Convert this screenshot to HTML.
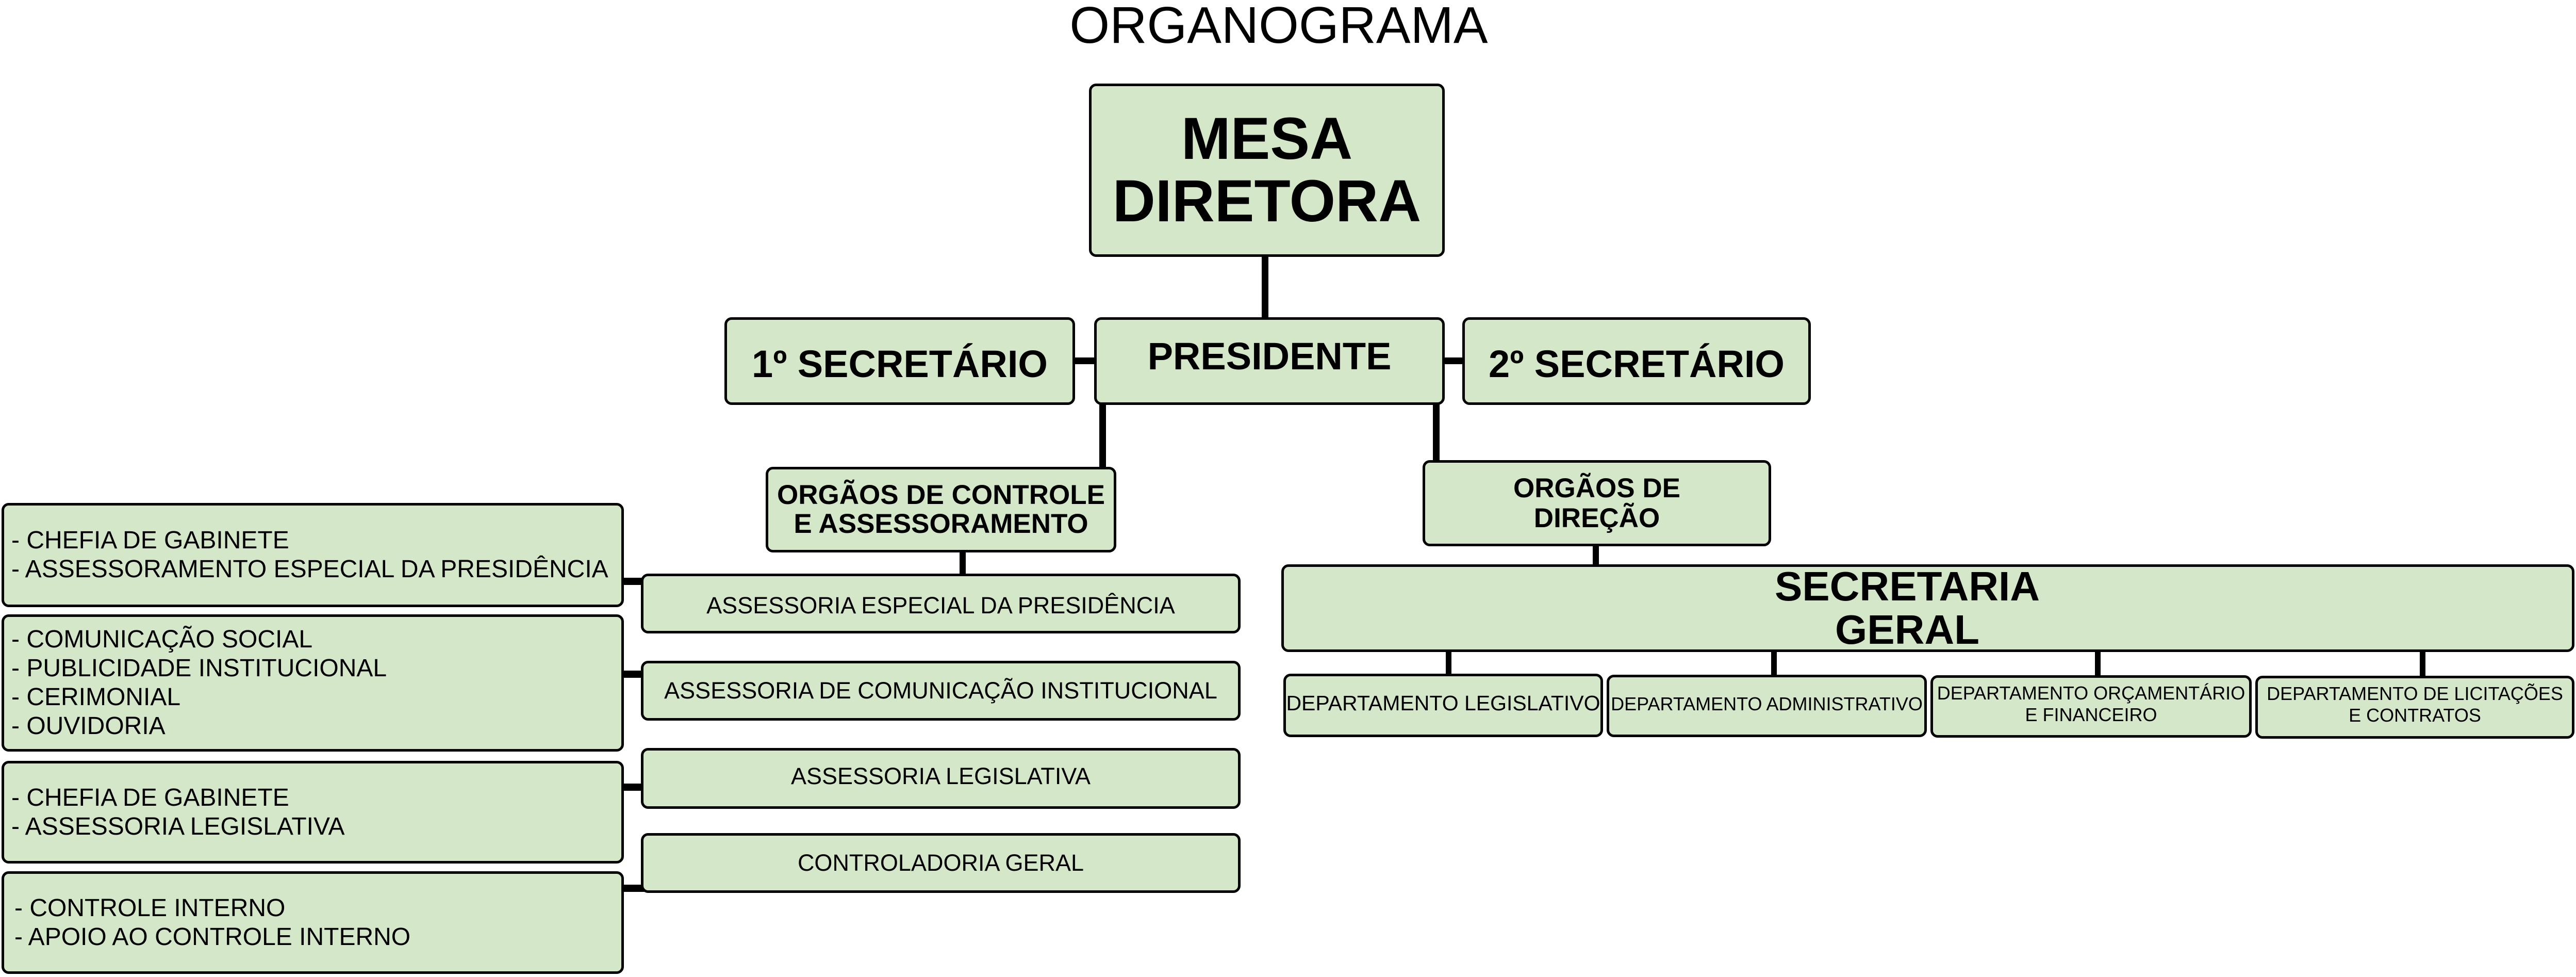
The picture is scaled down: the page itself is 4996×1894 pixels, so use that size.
<!DOCTYPE html>
<html><head><meta charset="utf-8"><style>
body{margin:0;width:4996px;height:1894px;background:#fff;position:relative;overflow:hidden;font-family:"Liberation Sans",Arial,sans-serif;color:#000}
.b{position:absolute;box-sizing:border-box;background:#d4e7c8;border:5px solid #000;border-radius:14px;display:flex;align-items:center;justify-content:center;text-align:center}
.l{position:absolute;background:#000}
.bold{font-weight:bold}
.left{justify-content:flex-start;text-align:left;padding-left:14px;font-size:48px;line-height:56px}
.r{font-size:45px}
.d{font-size:36px;line-height:42px;white-space:nowrap}
</style></head><body>
<div style="position:absolute;left:0;width:4996px;top:-8px;text-align:center;padding-right:36px;box-sizing:border-box;font-size:100px">ORGANOGRAMA</div>

<div class="l" style="left:2447px;top:495px;width:13px;height:122px"></div>
<div class="l" style="left:2080px;top:693px;width:45px;height:13px"></div>
<div class="l" style="left:2797px;top:693px;width:42px;height:13px"></div>
<div class="l" style="left:2132px;top:782px;width:13px;height:125px"></div>
<div class="l" style="left:2779px;top:782px;width:13px;height:112px"></div>
<div class="l" style="left:1861px;top:1068px;width:12px;height:46px"></div>
<div class="l" style="left:3089px;top:1056px;width:12px;height:40px"></div>
<div class="l" style="left:1205px;top:1120px;width:58px;height:14px"></div>
<div class="l" style="left:1205px;top:1300px;width:58px;height:14px"></div>
<div class="l" style="left:1205px;top:1519px;width:58px;height:14px"></div>
<div class="l" style="left:1205px;top:1715px;width:58px;height:14px"></div>
<div class="l" style="left:2804px;top:1260px;width:11px;height:50px"></div>
<div class="l" style="left:3435px;top:1260px;width:11px;height:50px"></div>
<div class="l" style="left:4063px;top:1260px;width:11px;height:50px"></div>
<div class="l" style="left:4693px;top:1260px;width:11px;height:50px"></div>

<div class="b bold" style="left:2112px;top:162px;width:690px;height:336px;font-size:115px;line-height:121px">MESA<br>DIRETORA</div>
<div class="b bold" style="left:1405px;top:615px;width:680px;height:170px;font-size:74px;padding-top:10px">1º SECRETÁRIO</div>
<div class="b bold" style="left:2122px;top:615px;width:680px;height:170px;font-size:74px;padding-bottom:20px">PRESIDENTE</div>
<div class="b bold" style="left:2836px;top:615px;width:676px;height:170px;font-size:74px;padding-top:10px">2º SECRETÁRIO</div>

<div class="b bold" style="left:1485px;top:905px;width:680px;height:166px;font-size:53px;line-height:56px">ORGÃOS DE CONTROLE<br>E ASSESSORAMENTO</div>
<div class="b bold" style="left:2759px;top:892px;width:676px;height:167px;font-size:53px;line-height:58px">ORGÃOS DE<br>DIREÇÃO</div>

<div class="b left" style="left:3px;top:975px;width:1207px;height:202px">- CHEFIA DE GABINETE<br>- ASSESSORAMENTO ESPECIAL DA PRESIDÊNCIA</div>
<div class="b left" style="left:3px;top:1191px;width:1207px;height:266px">- COMUNICAÇÃO SOCIAL<br>- PUBLICIDADE INSTITUCIONAL<br>- CERIMONIAL<br>- OUVIDORIA</div>
<div class="b left" style="left:3px;top:1475px;width:1207px;height:199px">- CHEFIA DE GABINETE<br>- ASSESSORIA LEGISLATIVA</div>
<div class="b left" style="left:3px;top:1689px;width:1207px;height:199px;padding-left:20px">- CONTROLE INTERNO<br>- APOIO AO CONTROLE INTERNO</div>

<div class="b r" style="left:1243px;top:1112px;width:1163px;height:116px;padding-top:8px">ASSESSORIA ESPECIAL DA PRESIDÊNCIA</div>
<div class="b r" style="left:1243px;top:1281px;width:1163px;height:116px">ASSESSORIA DE COMUNICAÇÃO INSTITUCIONAL</div>
<div class="b r" style="left:1243px;top:1450px;width:1163px;height:118px;padding-bottom:8px">ASSESSORIA LEGISLATIVA</div>
<div class="b r" style="left:1243px;top:1615px;width:1163px;height:116px">CONTROLADORIA GERAL</div>

<div class="b bold" style="left:2485px;top:1094px;width:2508px;height:170px;font-size:80px;line-height:84px;padding-right:80px">SECRETARIA<br>GERAL</div>

<div class="b" style="left:2489px;top:1306px;width:620px;height:123px;font-size:41px;padding-bottom:8px;white-space:nowrap">DEPARTAMENTO LEGISLATIVO</div>
<div class="b d" style="left:3116px;top:1308px;width:621px;height:121px;padding-bottom:8px">DEPARTAMENTO ADMINISTRATIVO</div>
<div class="b d" style="left:3744px;top:1309px;width:623px;height:121px;padding-bottom:10px">DEPARTAMENTO ORÇAMENTÁRIO<br>E FINANCEIRO</div>
<div class="b d" style="left:4374px;top:1310px;width:619px;height:122px;padding-bottom:10px">DEPARTAMENTO DE LICITAÇÕES<br>E CONTRATOS</div>
</body></html>
